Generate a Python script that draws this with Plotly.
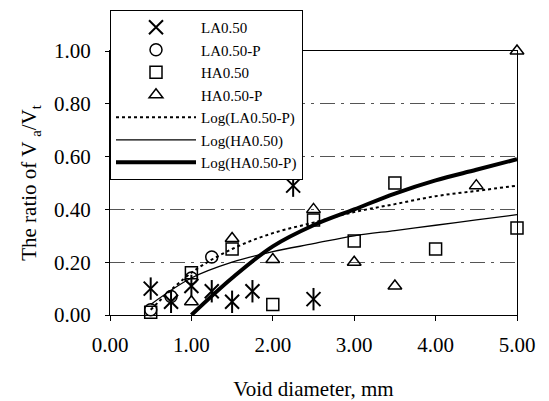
import plotly.graph_objects as go

# ---- data ----
la_x = [0.5, 0.75, 1.0, 1.25, 1.5, 1.75, 2.25, 2.5]
la_y = [0.10, 0.05, 0.11, 0.09, 0.05, 0.09, 0.49, 0.06]

lap_x = [0.5, 0.75, 1.0, 1.25]
lap_y = [0.02, 0.07, 0.14, 0.22]

ha_x = [0.5, 1.0, 1.5, 2.0, 2.5, 3.0, 3.5, 4.0, 5.0]
ha_y = [0.01, 0.16, 0.25, 0.04, 0.36, 0.28, 0.50, 0.25, 0.33]

hap_x = [1.0, 1.5, 2.0, 2.5, 3.0, 3.5, 4.5, 5.0]
hap_y = [0.05, 0.29, 0.21, 0.40, 0.20, 0.11, 0.49, 1.00]

# trend lines
log_lap_x = [0.5, 1.0, 1.5, 2.0, 2.5, 3.0, 3.5, 4.0, 4.5, 5.0]
log_lap_y = [0.02, 0.16, 0.25, 0.31, 0.35, 0.39, 0.42, 0.45, 0.47, 0.49]

log_ha_x = [0.5, 1.0, 1.5, 2.0, 2.5, 3.0, 3.5, 4.0, 4.5, 5.0]
log_ha_y = [0.04, 0.14, 0.20, 0.24, 0.27, 0.30, 0.32, 0.34, 0.36, 0.38]

log_hap_x = [1.0, 1.5, 2.0, 2.5, 3.0, 3.5, 4.0, 4.5, 5.0]
log_hap_y = [0.0, 0.14, 0.26, 0.34, 0.40, 0.46, 0.51, 0.55, 0.59]

x_ticks = [0, 1, 2, 3, 4, 5]
y_ticks = [0.0, 0.2, 0.4, 0.6, 0.8, 1.0]

FONT = "Liberation Serif"
fig = go.Figure()

mk = dict(color="black", size=12, line=dict(color="black", width=1.5))

fig.add_trace(go.Scatter(x=la_x, y=la_y, mode="markers", name="LA0.50",
                         marker=dict(symbol="x-thin-open", size=14, color="black",
                                     line=dict(color="black", width=2)),
                         cliponaxis=False))
fig.add_trace(go.Scatter(x=la_x, y=la_y, mode="markers", showlegend=False,
                         marker=dict(symbol="line-ns-open", size=16, color="black",
                                     line=dict(color="black", width=2)),
                         cliponaxis=False))
fig.add_trace(go.Scatter(x=lap_x, y=lap_y, mode="markers", name="LA0.50-P",
                         marker=dict(symbol="circle-open", **mk), cliponaxis=False))
fig.add_trace(go.Scatter(x=ha_x, y=ha_y, mode="markers", name="HA0.50",
                         marker=dict(symbol="square-open", **mk), cliponaxis=False))
fig.add_trace(go.Scatter(x=hap_x, y=hap_y, mode="markers", name="HA0.50-P",
                         marker=dict(symbol="triangle-up-open", **mk), cliponaxis=False))
fig.add_trace(go.Scatter(x=log_lap_x, y=log_lap_y, mode="lines", name="Log(LA0.50-P)",
                         line=dict(color="black", width=2, dash="dot"), line_shape="spline"))
fig.add_trace(go.Scatter(x=log_ha_x, y=log_ha_y, mode="lines", name="Log(HA0.50)",
                         line=dict(color="black", width=1.3), line_shape="spline"))
fig.add_trace(go.Scatter(x=log_hap_x, y=log_hap_y, mode="lines", name="Log(HA0.50-P)",
                         line=dict(color="black", width=4), line_shape="spline"))

fig.update_layout(
    width=549, height=401,
    margin=dict(l=110, r=32, t=51, b=86, autoexpand=False),
    paper_bgcolor="white", plot_bgcolor="white",
    font=dict(family=FONT, color="black", size=21),
    showlegend=True,
    legend=dict(x=0, y=1.155, xanchor="left", yanchor="top",
                bgcolor="white", bordercolor="black", borderwidth=1,
                font=dict(family=FONT, size=15), itemwidth=80,
                tracegroupgap=0),
    xaxis=dict(range=[0, 5], tickvals=x_ticks, tickformat=".2f",
               showgrid=False, zeroline=False, showline=True, linecolor="black",
               linewidth=1, mirror=True, ticks="outside", ticklen=5,
               tickcolor="black", automargin=False, ticklabelstandoff=6,
               title=dict(text="Void diameter, mm", font=dict(size=21), standoff=30)),
    yaxis=dict(range=[0, 1.0], tickvals=y_ticks, tickformat=".2f",
               showgrid=True, gridcolor="#555", griddash="longdashdot", gridwidth=1,
               zeroline=False, showline=True, linecolor="black", linewidth=1,
               mirror=True, ticks="outside", ticklen=4, tickcolor="black",
               ticklabelstandoff=10, automargin=False,
               title=dict(text="The ratio of V <sub>a</sub>/V<sub>t</sub>",
                          font=dict(size=21), standoff=11)),
)

fig.write_html("out.html", config={"displayModeBar": False},
               post_script="document.body.style.margin='0';document.body.style.padding='0';")
